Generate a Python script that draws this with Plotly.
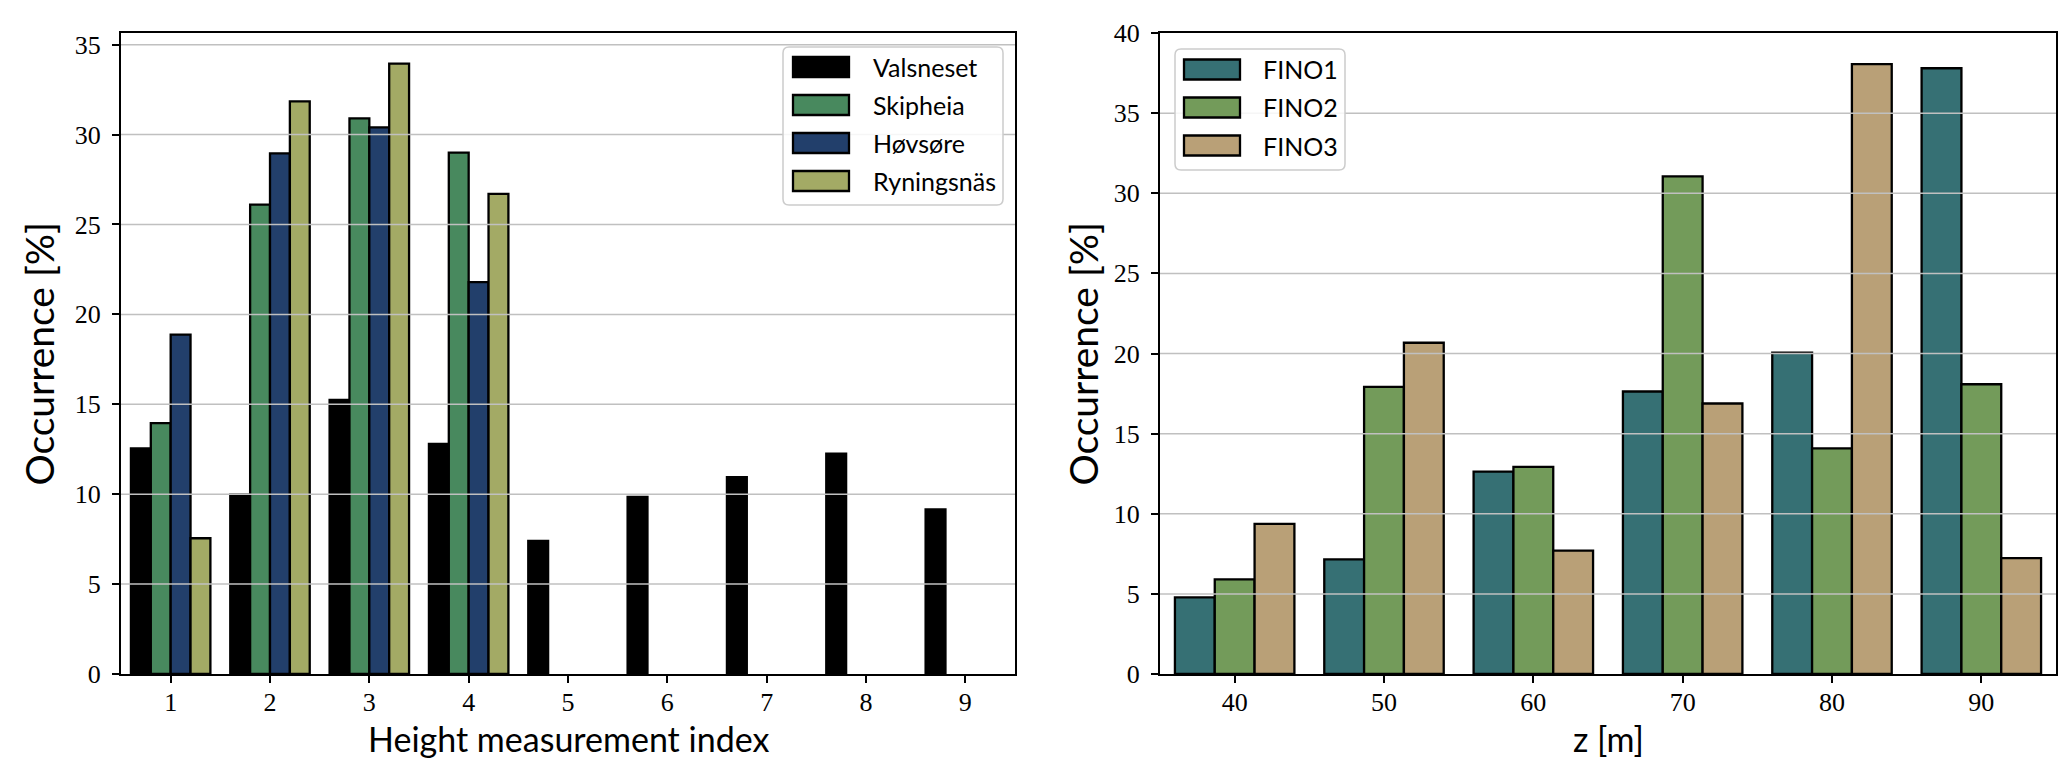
import plotly.graph_objects as go

# ---- data (left panel) ----
height_index = [1, 2, 3, 4, 5, 6, 7, 8, 9]
valsneset = [12.55, 9.97, 15.25, 12.8, 7.4, 9.85, 10.95, 12.25, 9.15]
skipheia = [13.95, 26.1, 30.9, 29.0, None, None, None, None, None]
hovsore = [18.88, 28.95, 30.4, 21.8, None, None, None, None, None]
ryningsnas = [7.55, 31.85, 33.95, 26.7, None, None, None, None, None]
left_names = ["Valsneset", "Skipheia", "Høvsøre", "Ryningsnäs"]
left_colors = ["#000000", "#48895e", "#223f6b", "#a3aa65"]

# ---- data (right panel) ----
z_m = [40, 50, 60, 70, 80, 90]
fino1 = [4.78, 7.15, 12.63, 17.63, 20.05, 37.8]
fino2 = [5.9, 17.92, 12.92, 31.05, 14.08, 18.08]
fino3 = [9.37, 20.67, 7.7, 16.88, 38.06, 7.23]
right_names = ["FINO1", "FINO2", "FINO3"]
right_colors = ["#367074", "#739b5a", "#b9a077"]

W, H = 2067, 767
ML, MR, MT, MB = 113, 19, 25, 101
PW, PH = W - ML - MR, H - MT - MB
EDGE = 2.3


def px(xp):
    return (xp - ML) / PW


def py(yp):
    return (H - MB - yp) / PH


fig = go.Figure()
for name, vals, col in zip(left_names, [valsneset, skipheia, hovsore, ryningsnas], left_colors):
    fig.add_trace(go.Bar(x=height_index, y=vals, name=name, showlegend=False,
                         marker=dict(color=col, line=dict(color="black", width=EDGE)),
                         xaxis="x", yaxis="y"))
for name, vals, col in zip(right_names, [fino1, fino2, fino3], right_colors):
    fig.add_trace(go.Bar(x=z_m, y=vals, name=name, showlegend=False,
                         marker=dict(color=col, line=dict(color="black", width=EDGE)),
                         xaxis="x2", yaxis="y2"))

tick_font = dict(family="Liberation Serif", size=26, color="black")
sans = "Lato"

ax_common = dict(showline=True, linecolor="black", linewidth=2, mirror=True, ticks="outside",
                 ticklen=7, tickwidth=1.5, tickcolor="black", tickfont=tick_font, showgrid=False,
                 zeroline=False, automargin=False)

fig.update_layout(
    width=W, height=H, margin=dict(l=ML, r=MR, t=MT, b=MB, autoexpand=False),
    paper_bgcolor="white", plot_bgcolor="white",
    barmode="group", bargap=0.2, bargroupgap=0,
    xaxis=dict(domain=[0, px(1007)], range=[0.5, 9.5], tickvals=height_index, anchor="y",
               ticklabelstandoff=-3, **ax_common),
    yaxis=dict(domain=[0, 1], range=[0, 35.65], tickvals=[0, 5, 10, 15, 20, 25, 30, 35], anchor="x",
               ticklabelstandoff=6, **ax_common),
    xaxis2=dict(domain=[px(1152), 1], range=[35, 95], tickvals=z_m, anchor="y2",
                ticklabelstandoff=-3, **ax_common),
    yaxis2=dict(domain=[0, 1], range=[0, 40], tickvals=[0, 5, 10, 15, 20, 25, 30, 35, 40], anchor="x2",
                ticklabelstandoff=6, **ax_common),
    showlegend=False,
)

# horizontal grid lines drawn above bars
for yv in [5, 10, 15, 20, 25, 30, 35]:
    fig.add_shape(type="line", xref="x domain", yref="y", x0=0, x1=1, y0=yv, y1=yv,
                  line=dict(color="#c0c0c0", width=1.5), layer="above")
    fig.add_shape(type="line", xref="x2 domain", yref="y2", x0=0, x1=1, y0=yv, y1=yv,
                  line=dict(color="#c0c0c0", width=1.5), layer="above")

# axis titles
ytitle_font = dict(family=sans, size=39, color="black")
xtitle_font = dict(family=sans, size=34, color="black")
ymid = (MT + (H - MB)) / 2
fig.add_annotation(text="Occurrence [%]", xref="paper", yref="paper", x=px(30), y=py(ymid), textangle=-90,
                   showarrow=False, font=ytitle_font, xanchor="center", yanchor="middle")
fig.add_annotation(text="Occurrence [%]", xref="paper", yref="paper", x=px(1074), y=py(ymid), textangle=-90,
                   showarrow=False, font=ytitle_font, xanchor="center", yanchor="middle")
fig.add_annotation(text="Height measurement index", xref="paper", yref="paper", x=px((113 + 1007) / 2), y=py(730),
                   showarrow=False, font=xtitle_font, xanchor="center", yanchor="middle")
fig.add_annotation(text="z [m]", xref="paper", yref="paper", x=px((1152 + 2048) / 2), y=py(730),
                   showarrow=False, font=xtitle_font, xanchor="center", yanchor="middle")


def rounded_box(x0, y0, x1, y1, r=6):
    X0, X1 = px(x0), px(x1)
    Y0, Y1 = py(y0), py(y1)  # Y0 top, Y1 bottom (paper)
    rx, ry = r / PW, r / PH
    return (f"M {X0 + rx},{Y0} L {X1 - rx},{Y0} Q {X1},{Y0} {X1},{Y0 - ry} "
            f"L {X1},{Y1 + ry} Q {X1},{Y1} {X1 - rx},{Y1} L {X0 + rx},{Y1} "
            f"Q {X0},{Y1} {X0},{Y1 + ry} L {X0},{Y0 - ry} Q {X0},{Y0} {X0 + rx},{Y0} Z")


def legend(names, colors, box, sw_x, txt_x, first_y, step):
    fig.add_shape(type="path", xref="paper", yref="paper", path=rounded_box(*box),
                  fillcolor="rgba(255,255,255,0.85)", line=dict(color="#cccccc", width=1.5), layer="above")
    for i, (n, c) in enumerate(zip(names, colors)):
        yc = first_y + i * step
        fig.add_shape(type="rect", xref="paper", yref="paper", x0=px(sw_x), x1=px(sw_x + 56),
                      y0=py(yc - 10), y1=py(yc + 10), fillcolor=c, line=dict(color="black", width=EDGE),
                      layer="above")
        fig.add_annotation(text=n, xref="paper", yref="paper", x=px(txt_x), y=py(yc), showarrow=False,
                           xanchor="left", yanchor="middle", font=dict(family=sans, size=25, color="black"))


legend(left_names, left_colors, (775, 39, 995, 197), 785, 863, 59, 38)
legend(right_names, right_colors, (1167, 41, 1337, 162), 1176, 1253, 61.5, 38)

fig.write_html("out.html")
